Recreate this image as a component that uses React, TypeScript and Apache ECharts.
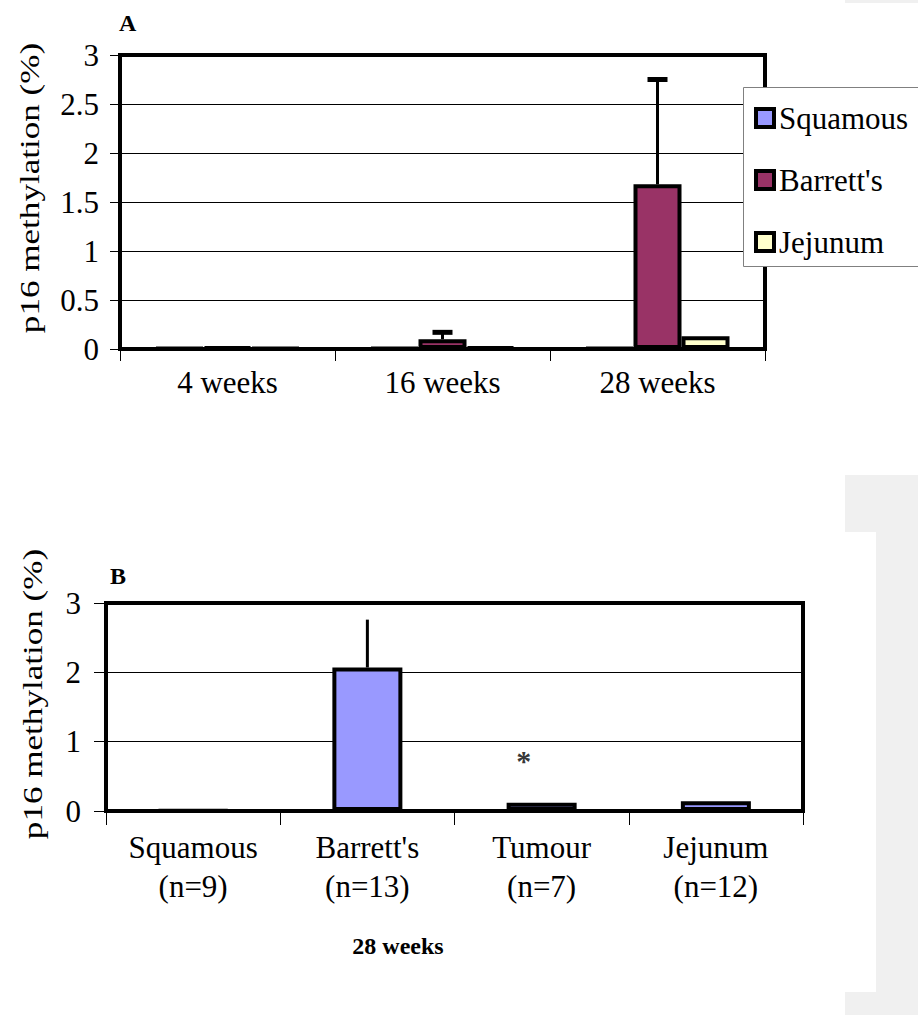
import React, { useEffect, useRef } from "react";
import * as echarts from "echarts";

const FONT = "'Liberation Serif', 'Times New Roman', serif";

// Panel A data
const weeks = ["4 weeks", "16 weeks", "28 weeks"];
const squamousA = [0.01, 0.01, 0.01];
const barrettA = [0.02, 0.1, 1.68];
const jejunumA = [0.01, 0.02, 0.13];
// error bars: [category index, mean, upper end]
const barrettErrA = [
  [1, 0.1, 0.17],
  [2, 1.68, 2.75],
];

// Panel B data
const tissues = ["Squamous\n(n=9)", "Barrett's\n(n=13)", "Tumour\n(n=7)", "Jejunum\n(n=12)"];
const valuesB = [0.01, 2.07, 0.12, 0.14];
const errB = [[1, 2.07, 2.76]];
const starB = [[2, 0.78]];

const COLORS = { squamous: "#9999ff", barrett: "#993366", jejunum: "#ffffcc" };

export default function App() {
  const ref = useRef<HTMLDivElement>(null);
  useEffect(() => {
    if (!ref.current) return;
    const chart = echarts.init(ref.current, null, { renderer: "svg" });

    const axisLabel = { color: "#000", fontSize: 31, fontFamily: FONT };
    const barItem = (c: string) => ({ color: c, borderColor: "#000", borderWidth: 4 });

    const errRender = (cap: number) => (params: any, api: any) => {
      const x = api.value(0);
      const p1 = api.coord([x, api.value(1)]);
      const p2 = api.coord([x, api.value(2)]);
      const children: any[] = [
        { type: "line", shape: { x1: p1[0], y1: p1[1], x2: p2[0], y2: p2[1] }, style: { stroke: "#000", lineWidth: 3 } },
      ];
      if (cap > 0) {
        children.push({
          type: "line",
          shape: { x1: p2[0] - cap / 2, y1: p2[1], x2: p2[0] + cap / 2, y2: p2[1] },
          style: { stroke: "#000", lineWidth: 5 },
        });
      }
      return { type: "group", children };
    };

    const option: any = {
      animation: false,
      backgroundColor: "#fff",
      textStyle: { fontFamily: FONT },
      grid: [
        { left: 120, top: 55, width: 645, height: 294, show: true, borderColor: "#000", borderWidth: 4, backgroundColor: "transparent" },
        { left: 106, top: 603, width: 697, height: 208, show: true, borderColor: "#000", borderWidth: 4, backgroundColor: "transparent" },
      ],
      xAxis: [
        {
          type: "category", gridIndex: 0, data: weeks,
          axisLine: { lineStyle: { color: "#000", width: 4 } },
          axisTick: { show: true, length: 12, lineStyle: { color: "#000", width: 1 } },
          axisLabel: { ...axisLabel, margin: 18 },
        },
        {
          type: "category", gridIndex: 1, data: tissues,
          axisLine: { lineStyle: { color: "#000", width: 4 } },
          axisTick: { show: true, length: 14, lineStyle: { color: "#000", width: 1 } },
          axisLabel: { ...axisLabel, margin: 17, lineHeight: 39 },
        },
      ],
      yAxis: [
        {
          type: "value", gridIndex: 0, min: 0, max: 3, interval: 0.5,
          axisLine: { show: true, lineStyle: { color: "#000", width: 4 } },
          axisTick: { show: true, length: 10, lineStyle: { color: "#000", width: 1 } },
          splitLine: { lineStyle: { color: "#000", width: 1 } },
          axisLabel: { ...axisLabel, margin: 21 },
        },
        {
          type: "value", gridIndex: 1, min: 0, max: 3, interval: 1,
          axisLine: { show: true, lineStyle: { color: "#000", width: 4 } },
          axisTick: { show: true, length: 12, lineStyle: { color: "#000", width: 1 } },
          splitLine: { lineStyle: { color: "#000", width: 1 } },
          axisLabel: { ...axisLabel, margin: 25 },
        },
      ],
      legend: {
        orient: "vertical", left: 754, top: 102, padding: 0,
        itemWidth: 18, itemHeight: 18, itemGap: 30, itemTextGap: 9,
        icon: "rect",
        itemStyle: { borderColor: "#000", borderWidth: 4 },
        textStyle: { color: "#000", fontSize: 31, fontFamily: FONT, lineHeight: 32 },
        data: ["Squamous", "Barrett's", "Jejunum"],
        z: 20,
      },
      series: [
        { name: "Squamous", type: "bar", xAxisIndex: 0, yAxisIndex: 0, data: squamousA, barWidth: 48, barGap: "0%", itemStyle: barItem(COLORS.squamous) },
        { name: "Barrett's", type: "bar", xAxisIndex: 0, yAxisIndex: 0, data: barrettA, barWidth: 48, barGap: "0%", itemStyle: barItem(COLORS.barrett) },
        { name: "Jejunum", type: "bar", xAxisIndex: 0, yAxisIndex: 0, data: jejunumA, barWidth: 48, barGap: "0%", itemStyle: barItem(COLORS.jejunum) },
        { type: "custom", xAxisIndex: 0, yAxisIndex: 0, data: barrettErrA, renderItem: errRender(20), z: 3 },
        { name: "B", type: "bar", xAxisIndex: 1, yAxisIndex: 1, data: valuesB, barWidth: 70, itemStyle: barItem(COLORS.squamous) },
        { type: "custom", xAxisIndex: 1, yAxisIndex: 1, data: errB, renderItem: errRender(0), z: 3 },
        {
          type: "scatter", xAxisIndex: 1, yAxisIndex: 1, data: starB, symbolSize: 0,
          label: { show: true, formatter: "*", position: "inside", offset: [-18, 4], color: "#000", fontSize: 30, fontWeight: "bold", fontFamily: FONT },
        },
      ],
      graphic: [
        { type: "rect", shape: { x: 845, y: 0, width: 73, height: 3 }, style: { fill: "#f0f0f0" }, z: 0 },
        { type: "rect", shape: { x: 845, y: 475, width: 73, height: 540 }, style: { fill: "#f0f0f0" }, z: 0 },
        { type: "rect", shape: { x: 845, y: 532, width: 31, height: 460 }, style: { fill: "#ffffff" }, z: 1 },
        { type: "rect", shape: { x: 743.5, y: 87.5, width: 200, height: 179 }, style: { fill: "#ffffff", stroke: "#808080", lineWidth: 1 }, z: 15 },
        { type: "text", x: 119, y: 11, style: { text: "A", font: `bold 24px "Liberation Serif"`, fill: "#000" } },
        { type: "text", x: 110, y: 564, style: { text: "B", font: `bold 24px "Liberation Serif"`, fill: "#000" } },
        { type: "text", x: 398, y: 946, style: { text: "28 weeks", font: `bold 24px "Liberation Serif"`, fill: "#000", textAlign: "center", textVerticalAlign: "middle" } },
        {
          type: "text", x: 30, y: 188, rotation: Math.PI / 2, scaleX: 1.3,
          style: { text: "p16 methylation (%)", font: `27px "Liberation Serif"`, fill: "#000", textAlign: "center", textVerticalAlign: "middle" },
        },
        {
          type: "text", x: 33, y: 694, rotation: Math.PI / 2, scaleX: 1.3,
          style: { text: "p16 methylation (%)", font: `27px "Liberation Serif"`, fill: "#000", textAlign: "center", textVerticalAlign: "middle" },
        },
      ],
    };
    chart.setOption(option);
    return () => chart.dispose();
  }, []);
  return <div ref={ref} style={{ position: "absolute", left: 0, top: 0, width: 918, height: 1015 }} />;
}
